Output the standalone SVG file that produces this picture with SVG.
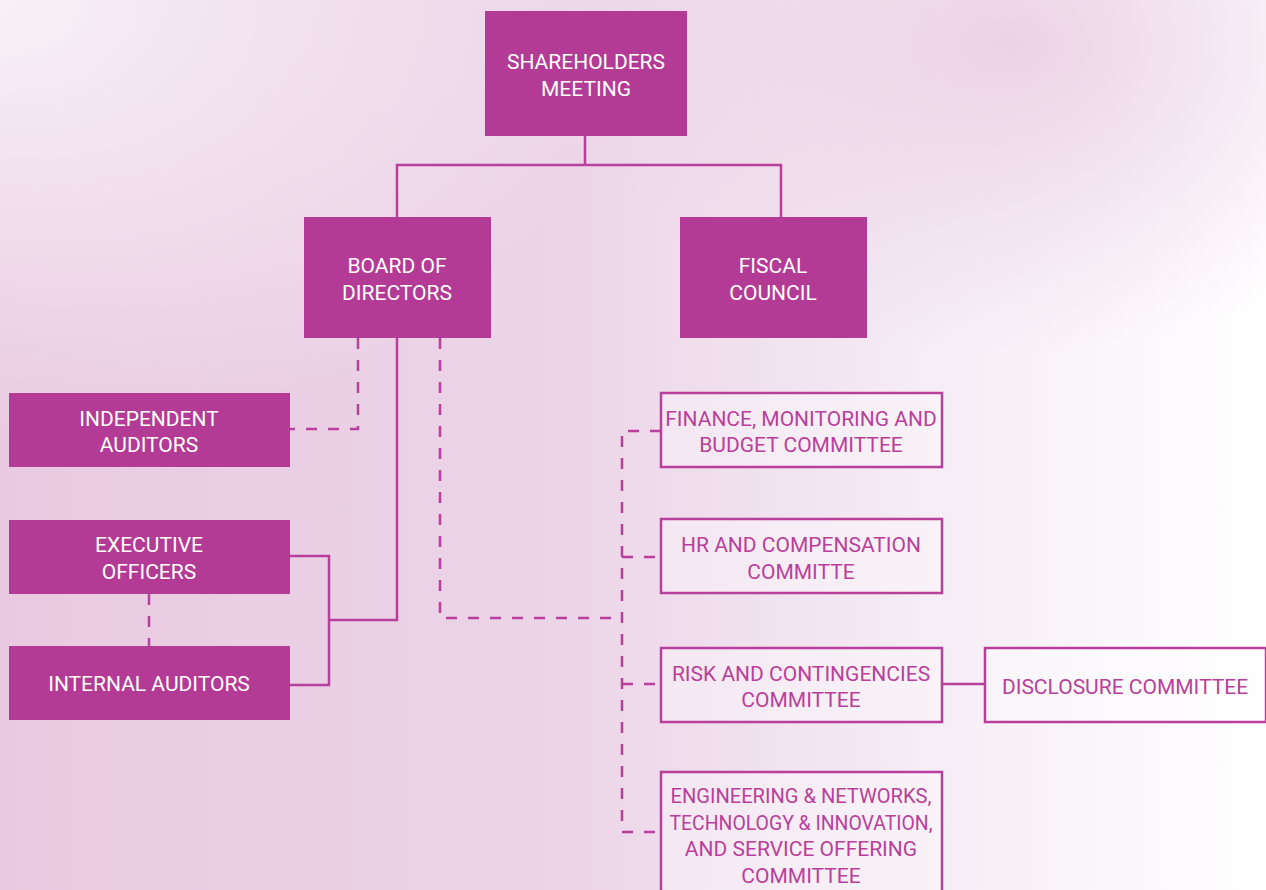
<svg xmlns="http://www.w3.org/2000/svg" width="1266" height="890" viewBox="0 0 1266 890">
<defs>
<linearGradient id="bg" x1="0" y1="0" x2="1" y2="0">
<stop offset="0" stop-color="#e9c9e1"/>
<stop offset="0.45" stop-color="#ecd5e8"/>
<stop offset="0.75" stop-color="#f6eef6"/>
<stop offset="1" stop-color="#ffffff"/>
</linearGradient>
<radialGradient id="tl" cx="0" cy="0" r="0.5">
<stop offset="0" stop-color="#f8f1f7" stop-opacity="1"/>
<stop offset="1" stop-color="#f8f1f7" stop-opacity="0"/>
</radialGradient>
<radialGradient id="tr" cx="0.8" cy="0.05" r="0.35">
<stop offset="0" stop-color="#e9cce2" stop-opacity="0.8"/>
<stop offset="1" stop-color="#e9cce2" stop-opacity="0"/>
</radialGradient>
<style>
.f{fill:#b33b96}
.o{fill:#ffffff;fill-opacity:0.35;stroke:#b93f9c;stroke-width:2.5}
.tw{fill:#ffffff;font-family:Roboto,"Liberation Sans",sans-serif;font-size:21px;text-anchor:middle}
.tp{fill:#b93f9c;font-family:Roboto,"Liberation Sans",sans-serif;font-size:21px;text-anchor:middle}
.s{fill:none;stroke:#b93f9c;stroke-width:2.5}
.d{fill:none;stroke:#b93f9c;stroke-width:2.5;stroke-dasharray:11 11}
</style>
</defs>
<rect width="1266" height="890" fill="url(#bg)"/>
<rect width="1266" height="890" fill="url(#tl)"/>
<rect width="1266" height="890" fill="url(#tr)"/>
<g id="connectors">
<path class="s" d="M397 217V165H781V217M585 136V165"/>
<path class="s" d="M397 338V620H329M290 556H329V685H290"/>
<path class="d" d="M358 338V429H290"/>
<path class="d" d="M149 594V646"/>
<path class="d" d="M440 338V618H622"/>
<path class="d" d="M661 431H622V832H661M622 557H661M622 684H661"/>
<path class="s" d="M942 684H985"/>
</g>
<g id="shareholders"><rect class="f" x="485" y="11" width="202" height="125"/><text class="tw" x="586" y="69">SHAREHOLDERS</text><text class="tw" x="586" y="96">MEETING</text></g>
<g id="board"><rect class="f" x="304" y="217" width="187" height="121"/><text class="tw" x="397" y="273">BOARD OF</text><text class="tw" x="397" y="300">DIRECTORS</text></g>
<g id="fiscal"><rect class="f" x="680" y="217" width="187" height="121"/><text class="tw" x="773" y="273">FISCAL</text><text class="tw" x="773" y="300">COUNCIL</text></g>
<g id="independent"><rect class="f" x="9" y="393" width="281" height="74"/><text class="tw" x="149" y="426">INDEPENDENT</text><text class="tw" x="149" y="452">AUDITORS</text></g>
<g id="executive"><rect class="f" x="9" y="520" width="281" height="74"/><text class="tw" x="149" y="552">EXECUTIVE</text><text class="tw" x="149" y="579">OFFICERS</text></g>
<g id="internal"><rect class="f" x="9" y="646" width="281" height="74"/><text class="tw" x="149" y="691">INTERNAL AUDITORS</text></g>
<g id="finance"><rect class="o" x="661" y="393" width="281" height="74"/><text class="tp" x="801" y="426">FINANCE, MONITORING AND</text><text class="tp" x="801" y="452">BUDGET COMMITTEE</text></g>
<g id="hr"><rect class="o" x="661" y="519" width="281" height="74"/><text class="tp" x="801" y="552">HR AND COMPENSATION</text><text class="tp" x="801" y="579">COMMITTE</text></g>
<g id="risk"><rect class="o" x="661" y="648" width="281" height="74"/><text class="tp" x="801" y="681">RISK AND CONTINGENCIES</text><text class="tp" x="801" y="707">COMMITTEE</text></g>
<g id="disclosure"><rect class="o" x="985" y="648" width="281" height="74"/><text class="tp" x="1125" y="694">DISCLOSURE COMMITTEE</text></g>
<g id="engineering"><rect class="o" x="661" y="772" width="281" height="130"/><text class="tp" x="801" y="803" textLength="261" lengthAdjust="spacingAndGlyphs">ENGINEERING &amp; NETWORKS,</text><text class="tp" x="801" y="830" textLength="263" lengthAdjust="spacingAndGlyphs">TECHNOLOGY &amp; INNOVATION,</text><text class="tp" x="801" y="856">AND SERVICE OFFERING</text><text class="tp" x="801" y="883">COMMITTEE</text></g>
</svg>
